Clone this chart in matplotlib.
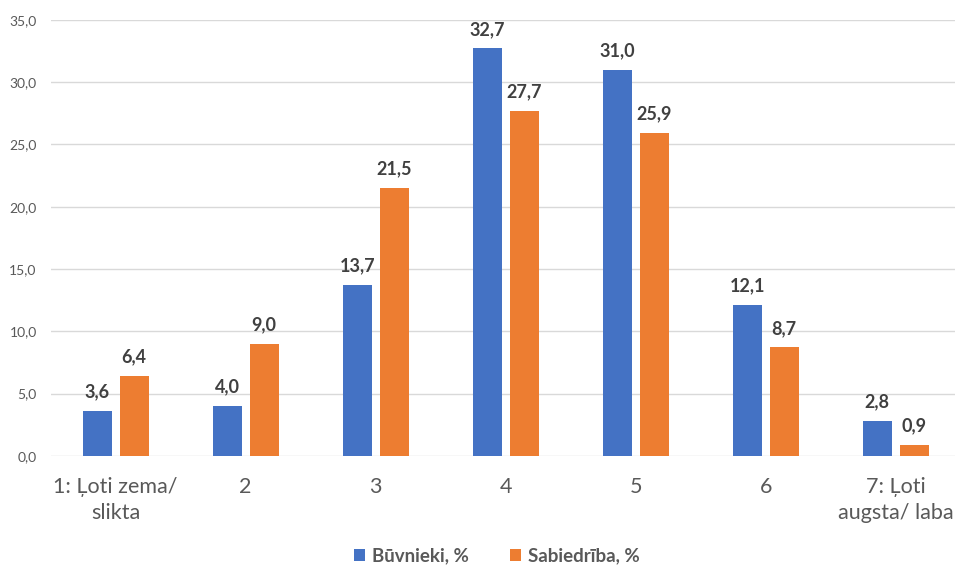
import matplotlib
matplotlib.use("Agg")
import matplotlib.pyplot as plt
import numpy as np

plt.rcParams['font.family'] = ['Lato', 'DejaVu Sans']

# dati
kategorijas = ["1: Ļoti zema/\nslikta", "2", "3", "4", "5", "6", "7: Ļoti\naugsta/ laba"]
buvnieki = [3.6, 4.0, 13.7, 32.7, 31.0, 12.1, 2.8]
sabiedriba = [6.4, 9.0, 21.5, 27.7, 25.9, 8.7, 0.9]
serijas = ["Būvnieki, %", "Sabiedrība, %"]

zils = "#4472C4"
oranzs = "#ED7D31"

fig = plt.figure(figsize=(9.55, 5.67), dpi=100)
ax = fig.add_axes([0.053, 0.196, 0.953, 0.769])

x = np.arange(len(kategorijas))
w = 0.223
off = 0.142
b1 = ax.bar(x - off, buvnieki, w, color=zils, label=serijas[0], zorder=3)
b2 = ax.bar(x + off, sabiedriba, w, color=oranzs, label=serijas[1], zorder=3)

for bars in (b1, b2):
    for r in bars:
        v = r.get_height()
        ax.text(r.get_x() + r.get_width() / 2, v + 0.85, f"{v:.1f}".replace(".", ","),
                ha="center", va="bottom", fontsize=13, fontweight="bold", color="#404040")

ax.set_xlim(-0.5, 6.5)
ax.set_ylim(0, 35)
ax.set_yticks(np.arange(0, 36, 5))
ax.set_yticklabels([f"{v:.1f}".replace(".", ",") for v in np.arange(0, 36, 5)])
ax.set_xticks(x)
ax.set_xticklabels(kategorijas, fontsize=15.5, color="#595959", linespacing=1.4)
ax.tick_params(axis="y", labelsize=10, colors="#595959", length=0, pad=10)
ax.tick_params(axis="x", length=0, pad=15)
ax.yaxis.grid(True, color="#D9D9D9", linewidth=1, zorder=0)
for s in ax.spines.values():
    s.set_visible(False)

fig.legend(handles=[b1, b2], labels=serijas, loc="center", bbox_to_anchor=(0.52, 0.02),
           ncol=2, frameon=False, handlelength=0.6, handleheight=0.6, columnspacing=2.2,
           handletextpad=0.35, prop={"family": ["Lato", "DejaVu Sans"], "weight": "bold", "size": 13.5},
           labelcolor="#595959")

fig.savefig("out.png", dpi=100)
